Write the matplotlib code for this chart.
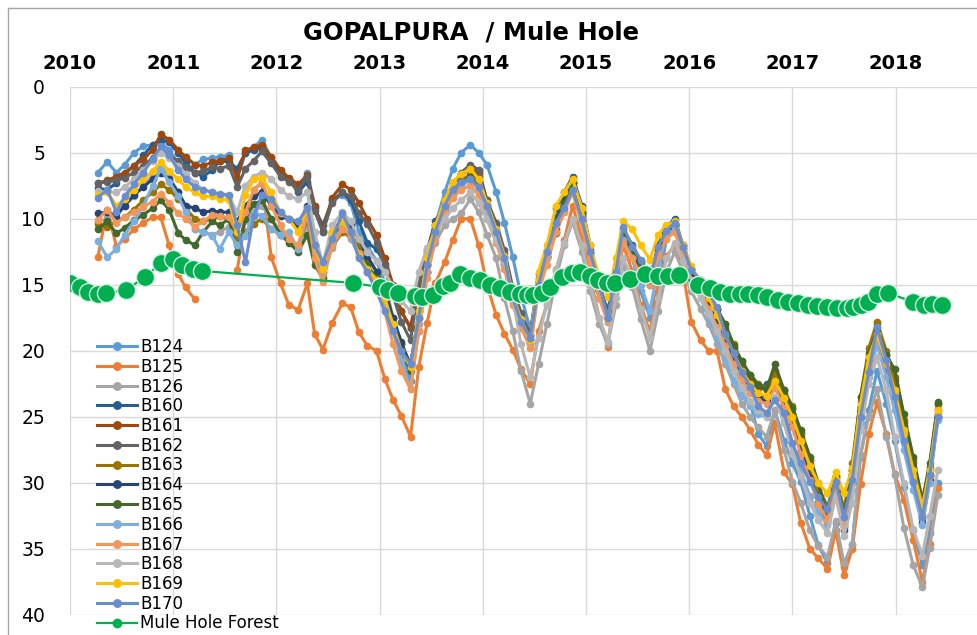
import numpy as np
import matplotlib
matplotlib.use("Agg")
import matplotlib.pyplot as plt
from matplotlib.lines import Line2D

nan = np.nan

dates = [2010.27, 2010.36, 2010.45, 2010.53, 2010.62, 2010.71, 2010.80, 2010.88,
         2010.96, 2011.05, 2011.12, 2011.21, 2011.29, 2011.38, 2011.45, 2011.54, 2011.62,
         2011.70, 2011.78, 2011.86,
         2011.95, 2012.04, 2012.12, 2012.21, 2012.30,
         2012.37, 2012.45, 2012.54, 2012.64,
         2012.72, 2012.80, 2012.88, 2012.97, 2013.05, 2013.13, 2013.21, 2013.30,
         2013.38, 2013.46, 2013.54, 2013.63, 2013.71, 2013.79, 2013.88,
         2013.96, 2014.04, 2014.13, 2014.21, 2014.29, 2014.37, 2014.46,
         2014.54, 2014.62, 2014.71, 2014.79, 2014.87,
         2014.96, 2015.04, 2015.13, 2015.21,
         2015.29, 2015.36,
         2015.45, 2015.53, 2015.62,
         2015.70, 2015.78, 2015.86,
         2015.94, 2016.02, 2016.11, 2016.19, 2016.27, 2016.35, 2016.43, 2016.51, 2016.59, 2016.67, 2016.75, 2016.83,
         2016.92, 2017.00, 2017.08, 2017.17, 2017.25, 2017.34,
         2017.42, 2017.50,
         2017.58, 2017.66, 2017.74, 2017.82,
         2017.91, 2017.99, 2018.08, 2018.17, 2018.26,
         2018.33, 2018.41]

B124 = [6.5, 5.7, 6.5, 5.9, 5.0, 4.5, 4.4, 4.2,
        4.8, 5.8, 6.3, 5.9, 5.5, 5.4, 5.3, 5.2, 7.0,
        5.0, 4.6, 4.0,
        5.4, 6.4, 7.0, 7.8, 6.5,
        9.0, 11.0, 8.6, 8.2,
        8.8, 11.0, 12.0, 13.2, 14.8, 17.5, 20.0, 22.3,
        18.5, 14.0, 10.5, 8.0, 6.2, 5.0, 4.4,
        5.0, 5.9, 8.0, 10.3, 12.9, 15.8, 18.4,
        15.0, 13.0, 11.0, 9.4, 7.5,
        10.2, 13.4, 16.0, 17.6,
        14.0, 11.2,
        13.0, 15.5, 17.5,
        15.0, 11.5, 10.8,
        12.5, 14.6, 15.5, 16.6, 17.7, 19.4, 21.2, 23.0, 23.9, 26.3, 27.2, 24.5,
        26.8, 28.5, 29.9, 32.5, 34.7, 36.1,
        33.0, 36.4,
        34.7, 28.0, 24.5, 21.5,
        24.0, 26.8, 30.3, 33.6, 36.2,
        33.8, 30.0]

B125 = [12.9, 9.3, 12.1, 11.5, 10.8, 10.3, 9.9, 9.9,
        12.0, 14.2, 15.2, 16.1, nan, nan, nan, nan, 13.9,
        10.0, 7.8, 7.3,
        12.9, 14.9, 16.5, 16.9, 14.9,
        18.7, 19.9, 17.9, 16.4,
        16.7, 18.6, 19.6, 20.0, 22.1, 23.7, 24.9, 26.5,
        21.2, 17.9, 14.9, 13.3, 11.6, 10.0, 10.0,
        12.0, 15.0, 17.3, 18.7, 19.9, 21.4, 22.5,
        18.5, 16.5, 13.9, 11.6, 9.0,
        11.5, 14.5, 17.5, 19.7,
        15.0, 12.0,
        14.0, 16.5, 18.6,
        15.0, 12.8, 12.0,
        14.0, 17.8, 19.2, 20.0, 20.0, 22.9, 24.2, 25.0, 26.0, 27.1, 27.9, 25.5,
        29.2, 30.1, 33.0, 35.0, 35.7, 36.5,
        33.6, 37.0,
        35.0, 30.1, 26.3, 23.9,
        26.3, 29.3, 31.3, 34.3, 37.5,
        34.6, 30.4]

B126 = [10.2, 10.0, 9.5, 9.0, 8.3, 7.5, 6.7, 6.0,
        6.8, 8.0, 9.3, 10.8, 11.0, 11.2, 11.0, 10.6, 12.0,
        10.2, 9.5, 9.0,
        10.0, 11.0, 11.6, 12.2, 10.5,
        13.0, 14.2, 12.2, 11.0,
        11.5, 12.8, 13.8, 14.5, 16.0, 17.8, 19.5, 21.0,
        17.5, 14.0, 11.8, 10.5, 10.0, 9.6, 8.5,
        9.5, 11.2, 13.0, 16.0, 18.5, 21.5, 24.0,
        21.0, 18.0, 14.5, 12.0, 10.2,
        12.5, 15.5, 18.0, 19.5,
        16.5, 13.5,
        15.2, 17.6, 20.0,
        17.0, 14.0, 12.5,
        14.0, 15.5, 16.8, 18.0, 19.5, 21.0, 22.5, 24.0, 25.0, 25.8, 26.5, 24.5,
        27.5, 29.9, 31.5, 33.6, 34.8, 35.6,
        32.9, 36.1,
        34.6, 27.9, 25.0, 22.9,
        26.5, 29.4, 33.4, 36.2, 37.9,
        34.9, 30.9]

B160 = [7.7, 7.8, 7.3, 6.6, 6.0, 5.2, 4.4, 4.0,
        4.2, 5.0, 5.8, 6.5, 6.8, 6.3, 5.6, 5.7, 6.2,
        5.0, 4.8, 4.6,
        5.6, 6.6, 7.0, 8.0, 7.2,
        9.2, 10.5, 8.6, 8.0,
        8.6, 10.2, 11.8, 12.3, 13.4, 15.5, 17.0, 18.3,
        15.3, 12.4, 10.2, 8.9, 7.3, 6.8, 6.0,
        6.8, 8.9, 10.8, 12.8, 15.6, 17.4, 18.9,
        14.2, 12.4, 9.2, 8.0, 6.8,
        9.0, 12.0, 15.0, 17.0,
        13.8, 10.8,
        12.0, 13.2, 14.7,
        12.0, 10.6, 10.0,
        12.0, 13.8, 14.8, 15.9, 17.2, 18.6, 20.0, 21.3, 22.3, 22.8, 22.5, 22.0,
        23.0, 24.8, 26.3, 28.3, 30.8, 32.8,
        30.0, 33.3,
        29.3, 24.2, 20.6, 18.3,
        20.6, 22.5, 25.6, 28.8, 32.7,
        29.5, 25.0]

B161 = [7.3, 7.1, 6.8, 6.5, 6.0, 5.5, 4.8, 3.6,
        4.0, 4.8, 5.3, 5.9, 6.0, 5.7, 5.6, 5.4, 6.9,
        4.8, 4.6, 4.4,
        5.3, 6.3, 6.9, 7.4, 6.7,
        9.0, 10.9, 8.4, 7.4,
        7.8, 8.8, 10.0, 11.2, 13.0, 15.0, 17.0, 18.2,
        15.0, 12.5, 10.5, 8.8, 7.5, 6.6, 6.1,
        6.5, 8.6, 10.5, 12.6, 15.4, 17.5, 18.8,
        14.5, 12.8, 10.8, 8.6, 7.0,
        9.5, 12.4, 15.3, 17.2,
        14.0, 11.0,
        12.2, 13.3, 14.5,
        12.0, 10.7, 10.4,
        12.2, 14.0, 14.6, 15.6, 16.8, 18.3, 19.8, 21.0, 22.0, 22.7, 23.0, 21.5,
        23.2, 24.4, 26.5, 28.6, 30.5, 32.2,
        29.5, 32.8,
        29.0, 23.9, 20.3, 18.0,
        20.3, 22.2, 25.4, 28.5, 32.0,
        29.0, 24.0]

B162 = [7.3, 7.2, 7.1, 6.9, 6.5, 6.0, 5.4, 4.8,
        5.2, 5.6, 6.1, 6.5, 6.4, 6.1, 6.2, 6.0, 7.6,
        6.2, 5.6, 4.9,
        5.8, 6.8, 7.2, 7.8, 6.8,
        9.4, 11.0, 8.8, 8.0,
        8.3, 9.6, 10.4, 11.8, 13.6, 15.8, 17.8, 19.2,
        14.9, 12.9, 10.9, 8.7, 7.6, 6.5, 5.9,
        6.3, 8.6, 10.3, 12.4, 15.2, 17.1, 18.8,
        14.6, 12.9, 11.1, 8.8, 7.3,
        9.8, 12.8, 15.5, 17.6,
        14.2, 11.5,
        12.5, 13.6, 14.8,
        12.4, 11.0, 10.6,
        12.5, 14.3, 15.0, 16.2, 17.5, 19.0, 20.4, 21.6, 22.6, 23.3, 23.6, 22.4,
        23.8, 25.2, 27.2, 29.2, 31.0, 32.6,
        30.0, 33.0,
        29.6, 24.6, 20.8, 18.6,
        20.8, 23.0, 26.0, 29.2, 32.5,
        29.3, 24.5]

B163 = [10.4, 10.6, 10.2, 9.9, 9.3, 8.6, 8.0, 7.4,
        7.8, 8.5, 9.2, 10.0, 10.2, 10.0, 9.8, 10.0, 11.5,
        11.0, 10.4, 10.0,
        10.8, 11.2, 11.6, 12.0, 10.0,
        12.8, 14.0, 12.0, 11.0,
        11.3, 12.0, 13.0, 14.0, 15.5, 17.5, 19.5, 21.0,
        17.5, 14.0, 11.2, 9.5, 8.0, 7.2, 6.6,
        7.2, 9.0, 11.0, 13.0, 16.0, 18.0, 19.2,
        14.8, 12.8, 10.0, 8.8, 7.3,
        9.8, 12.8, 15.5, 17.4,
        14.0, 11.2,
        12.4, 13.6, 14.8,
        12.3, 10.8, 10.5,
        12.3, 14.3, 15.0, 15.8, 16.8, 18.0, 19.5, 20.8, 21.8, 22.5, 22.8, 21.8,
        23.0, 24.2, 26.2, 28.3, 30.3, 31.8,
        29.5, 32.0,
        28.5, 23.5, 19.8, 17.8,
        20.0, 22.0, 25.2, 28.3, 31.5,
        28.8, 24.0]

B164 = [9.6, 9.5, 9.8, 9.0, 8.2, 7.6, 7.0, 6.5,
        7.0, 8.0, 9.0, 9.2, 9.5, 9.4, 9.5, 9.5, 10.2,
        9.0, 8.3, 8.0,
        9.0, 9.8, 10.0, 10.5, 9.0,
        12.0, 13.5, 11.0, 10.0,
        10.5, 11.5, 12.8, 14.0, 15.5, 17.5, 19.3, 21.2,
        17.0, 13.5, 10.8, 9.0, 8.0, 7.5, 7.0,
        7.6, 9.4, 11.2, 13.3, 16.0, 17.8, 19.2,
        15.0, 12.6, 10.0, 8.6, 7.2,
        9.6, 12.6, 15.4, 17.5,
        14.2, 11.3,
        12.6, 13.8, 15.0,
        12.4, 11.0, 10.5,
        12.5, 14.3, 15.3, 16.5, 17.8, 19.3, 20.8, 22.0, 23.0, 23.6, 23.8, 22.6,
        24.0, 25.5, 27.5, 29.6, 31.5, 33.0,
        30.2, 33.6,
        30.0, 25.0, 21.3, 18.8,
        21.3, 23.4, 26.5, 29.8, 33.0,
        29.8, 25.0]

B165 = [10.8, 10.2, 11.1, 10.7, 10.1, 9.7, 9.2, 8.6,
        9.3, 11.1, 11.6, 12.0, 11.0, 10.2, 10.5, 10.0, 12.5,
        10.0, 8.9, 8.6,
        10.0, 11.2, 11.8, 12.5, 11.2,
        13.5, 14.5, 11.8, 10.0,
        11.0, 12.5, 13.5, 14.5, 16.0, 18.0, 20.0, 21.5,
        17.0, 13.5, 10.8, 9.2, 8.0, 7.3, 6.8,
        7.6, 9.5, 11.2, 13.4, 16.2, 18.0, 19.4,
        14.8, 12.6, 10.2, 8.8, 7.3,
        9.6, 12.6, 15.4, 17.2,
        14.0, 11.2,
        12.4, 13.5, 14.6,
        12.2, 10.8, 10.4,
        12.0, 13.8, 14.8, 15.8, 16.8, 18.0, 19.6, 20.8, 21.8, 22.6, 22.9, 21.0,
        23.0, 24.3, 26.0, 28.0, 30.0, 32.3,
        29.6, 32.5,
        29.0, 23.5, 20.2, 18.6,
        20.3, 21.4, 24.8, 28.0, 31.3,
        28.5, 23.9]

B166 = [11.7, 12.9, 12.3, 11.2, 10.2, 9.0, 7.5, 6.2,
        7.2, 8.3, 9.5, 10.8, 11.0, 11.3, 12.3, 11.0, 12.0,
        11.3, 9.5, 9.8,
        10.8, 11.2, 11.0, 12.3, 9.6,
        12.5, 14.0, 11.8, 10.6,
        11.3, 12.8, 14.0, 15.0, 16.8, 18.5, 20.8, 22.9,
        18.0, 14.0, 11.3, 9.5, 8.2, 7.6, 7.0,
        7.8, 9.5, 11.3, 13.5, 16.4, 18.3, 19.5,
        15.2, 13.0, 10.5, 9.2, 7.8,
        10.3, 13.0, 16.0, 17.8,
        14.5, 11.6,
        13.0, 15.0, 17.0,
        13.5, 11.2, 10.8,
        12.8, 14.8, 16.0, 17.5, 19.0, 20.6, 22.2, 23.4, 24.2, 24.8, 25.0, 23.6,
        25.2, 27.0, 29.0, 31.0, 32.2, 33.2,
        30.3, 33.2,
        30.5, 25.5, 22.0, 19.5,
        22.0, 24.5, 27.5, 30.5, 33.2,
        30.0, 25.2]

B167 = [10.1, 9.3, 10.3, 9.9, 9.5, 9.1, 8.7, 8.1,
        8.8, 9.6, 10.0, 10.6, 10.2, 9.7, 9.8, 9.9, 11.0,
        9.5, 7.8, 7.2,
        9.0, 10.5, 11.5, 12.0, 9.6,
        13.0, 14.8, 12.0, 10.8,
        11.2, 12.6, 14.0, 15.0, 17.0, 19.5, 21.5, 22.9,
        18.5, 14.5, 11.5, 9.6, 8.4, 7.8, 7.5,
        8.2, 10.0, 11.8, 13.8, 16.5, 18.2, 19.8,
        15.5, 13.5, 11.0, 9.5, 8.0,
        10.5, 13.5, 16.0, 17.8,
        14.0, 11.8,
        13.0, 14.2, 15.0,
        12.8, 11.5, 11.0,
        12.8, 14.6, 15.6, 16.8, 18.2, 19.6, 21.0, 22.2, 23.2, 23.8, 24.0, 22.8,
        24.3, 25.8, 27.8, 29.8, 31.6, 32.8,
        30.2, 33.2,
        29.8, 24.8, 21.0, 18.8,
        21.0, 23.2, 26.3, 29.5, 32.6,
        29.5, 24.8]

B168 = [7.9, 8.0, 8.0, 7.6, 7.0, 6.3, 5.6, 5.0,
        5.4, 6.0, 6.6, 7.3, 7.8, 8.0, 8.2, 8.3, 9.5,
        7.5, 6.8, 6.5,
        7.0, 7.8, 8.3, 8.5, 8.0,
        11.0, 13.5, 10.5, 9.5,
        10.2, 11.5, 12.5, 13.2, 14.0, 15.2, 16.2, 17.0,
        14.0, 12.2, 11.0, 10.0, 9.2, 8.6, 8.0,
        8.8, 10.0, 11.6, 13.2, 16.0, 19.5, 22.0,
        19.0, 16.5, 13.8, 11.8, 10.0,
        12.0, 15.0, 17.5, 19.3,
        16.0, 13.0,
        14.5, 16.8, 19.0,
        16.0, 13.0, 11.8,
        13.2, 14.8, 16.0, 17.2, 18.5, 20.0, 21.5, 22.8, 23.8, 24.5, 25.0, 23.5,
        25.5, 27.8, 29.5, 31.5, 32.8, 33.8,
        31.0, 34.0,
        31.5, 26.0, 22.5, 20.5,
        23.0, 26.5, 30.0, 33.5, 35.5,
        32.5, 29.0]

B169 = [8.2, 8.0, 9.0, 8.5, 7.8, 7.0, 6.4, 5.7,
        6.4, 7.0, 7.6, 8.0, 8.3, 8.3, 8.5, 8.6, 11.0,
        8.2, 7.0, 6.9,
        8.0, 9.6, 10.0, 11.0, 9.2,
        12.0, 13.8, 11.0, 10.2,
        11.0, 12.8, 13.8, 14.6, 16.0, 18.0, 20.0, 21.2,
        17.0, 13.0, 10.5, 8.6, 7.2, 6.6, 6.2,
        7.0, 8.8, 10.8, 12.8, 15.8, 17.6, 19.2,
        14.0, 12.0, 9.0, 8.0, 7.0,
        9.2, 12.0, 14.5, 15.9,
        13.0, 10.2,
        10.8, 12.0, 13.1,
        11.2, 10.5, 10.2,
        12.0, 13.6, 14.8, 16.0, 17.3, 18.8, 20.2, 21.5, 22.5, 23.2, 23.4, 22.3,
        23.6, 25.0, 26.8, 28.7, 30.0, 30.8,
        29.2, 30.8,
        28.9, 24.0, 20.5, 18.7,
        20.8, 23.0, 26.0, 29.0, 31.8,
        29.0, 24.5]

B170 = [8.4, 7.8, 9.5, 8.3, 7.4, 6.5, 5.5, 4.5,
        5.2, 6.3, 7.0, 7.6, 7.8, 8.0, 8.1, 8.2, 10.5,
        13.3, 9.8, 8.2,
        8.5, 9.5, 10.0, 10.2, 9.2,
        12.0, 13.3, 11.5, 9.6,
        11.0, 13.0, 14.0, 15.5, 17.0, 18.5, 20.0, 21.0,
        17.5, 13.5, 11.0, 9.0, 7.8, 7.2, 7.0,
        7.6, 9.0, 11.0, 13.0, 16.0, 17.8, 19.0,
        15.0, 12.5, 10.3, 9.2, 7.8,
        10.0, 12.5, 15.0, 17.5,
        14.0, 10.6,
        12.1, 13.1, 14.6,
        12.1, 10.9, 10.3,
        12.1, 13.9, 14.6, 15.6, 16.7, 18.7, 20.2, 21.6, 22.7, 24.2, 24.7, 23.7,
        24.7, 27.0, 28.5, 29.9, 31.1, 32.0,
        29.9, 32.6,
        29.8, 25.0, 21.6, 18.2,
        20.7, 23.5, 26.8, 29.9, 32.6,
        29.4, 25.0]

forest_dates = [2010.00, 2010.10, 2010.17, 2010.27, 2010.35, 2010.54, 2010.73, 2010.88,
                2011.00, 2011.09, 2011.19, 2011.28,
                2012.74, 2013.00, 2013.08, 2013.18, 2013.34, 2013.41, 2013.52, 2013.61,
                2013.68, 2013.78, 2013.88, 2013.97, 2014.07, 2014.17, 2014.26, 2014.36,
                2014.43, 2014.49, 2014.57, 2014.65, 2014.77, 2014.86, 2014.94, 2015.04,
                2015.12, 2015.20, 2015.28, 2015.43, 2015.57, 2015.70, 2015.79, 2015.90,
                2016.09, 2016.20, 2016.30, 2016.40, 2016.49, 2016.57, 2016.67, 2016.75,
                2016.86, 2016.96, 2017.05, 2017.15, 2017.24, 2017.34, 2017.43, 2017.53,
                2017.59, 2017.66, 2017.73, 2017.82, 2017.93,
                2018.17, 2018.28, 2018.35, 2018.45]
forest = [14.86, 15.17, 15.55, 15.70, 15.62, 15.39, 14.41, 13.35,
          13.05, 13.50, 13.80, 13.95,
          14.86, 15.17, 15.39, 15.62, 15.85, 15.92, 15.77, 15.09,
          14.86, 14.18, 14.48, 14.63, 15.01, 15.24, 15.55, 15.70,
          15.77, 15.77, 15.62, 15.17, 14.41, 14.10, 14.03, 14.33,
          14.63, 14.86, 14.86, 14.56, 14.18, 14.33, 14.33, 14.26,
          15.01, 15.24, 15.55, 15.70, 15.70, 15.70, 15.77, 15.92,
          16.15, 16.30, 16.38, 16.53, 16.61, 16.68, 16.76, 16.76,
          16.68, 16.53, 16.30, 15.70, 15.62,
          16.30, 16.53, 16.45, 16.53]

series = [
    ("B124", B124, "#5B9BD5"),
    ("B125", B125, "#ED7D31"),
    ("B126", B126, "#A5A5A5"),
    ("B160", B160, "#255E91"),
    ("B161", B161, "#9E480E"),
    ("B162", B162, "#636363"),
    ("B163", B163, "#997300"),
    ("B164", B164, "#264478"),
    ("B165", B165, "#43682B"),
    ("B166", B166, "#7CAFDD"),
    ("B167", B167, "#F1975A"),
    ("B168", B168, "#B7B7B7"),
    ("B169", B169, "#FFC000"),
    ("B170", B170, "#698ED0"),
]

W, H = 978, 635
fig = plt.figure(figsize=(W / 100, H / 100), dpi=100)
ax = fig.add_axes([70 / W, 1 - 615 / H, (977 - 70) / W, (615 - 86.7) / H])

for name, vals, col in series:
    if len(vals) != len(dates):
        raise ValueError(f"{name}: {len(vals)} vs {len(dates)}")
    ax.plot(dates, vals, color=col, lw=2.2, marker="o", ms=4.5,
            markeredgecolor=col, label=name, zorder=2)

ax.plot(forest_dates, forest, color="#00B050", lw=1.6, marker="o", ms=13,
        markerfacecolor="#00B050", markeredgecolor="#D5EFE3", mew=1.0,
        label="Mule Hole Forest", zorder=3)

ax.set_xlim(2010, 2010 + (977 - 70) / 103.2)
ax.set_ylim(40, 0)
ax.set_yticks(range(0, 41, 5))
ax.set_xticks(range(2010, 2019))
ax.xaxis.tick_top()
ax.tick_params(axis="x", length=0, pad=10, labelsize=14)
ax.tick_params(axis="y", length=0, pad=18, labelsize=13.5)
for lbl in ax.get_xticklabels():
    lbl.set_fontweight("bold")
ax.grid(True, color="#D9D9D9", lw=1.0, zorder=0)
ax.set_axisbelow(True)
for s in ax.spines.values():
    s.set_visible(False)

fig.text(471 / W, 1 - 33 / H, "GOPALPURA  / Mule Hole", ha="center", va="center",
         fontsize=17.5, fontweight="bold")

# outer chart border (partially visible)
fig.add_artist(Line2D([8 / W, 8 / W], [0, 1 - 8 / H], color="#A6A6A6", lw=1.0))
fig.add_artist(Line2D([8 / W, 1], [1 - 8 / H, 1 - 8 / H], color="#A6A6A6", lw=1.0))

leg = ax.legend(loc="upper left", bbox_to_anchor=(97 / W, 1 - 338 / H),
                bbox_transform=fig.transFigure, frameon=False, fontsize=12,
                handlelength=2.4, handletextpad=0.2, labelspacing=0.105,
                borderpad=0, borderaxespad=0, markerscale=1.2)
for h in leg.legend_handles[-1:]:
    h.set_markersize(6)
    h.set_markeredgecolor("#00B050")

fig.savefig("out.png", dpi=100)
